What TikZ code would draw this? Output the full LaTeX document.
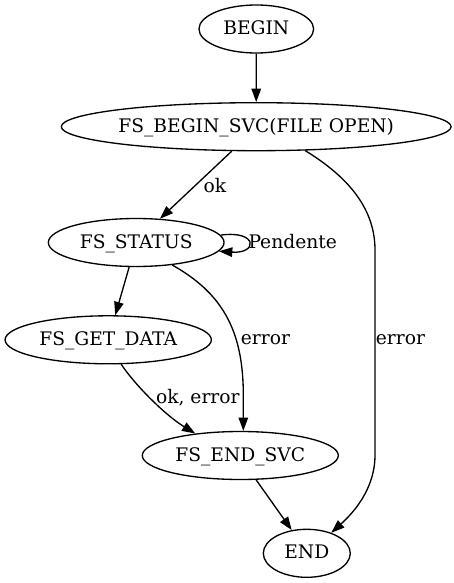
\documentclass[tikz,border=0pt]{standalone}
\usepackage{fontspec}
\setmainfont{DejaVu Serif}
\usetikzlibrary{arrows.meta,shapes.geometric}
\begin{document}
\begin{tikzpicture}[x=1pt,y=-1pt,
  every node/.style={font=\fontsize{18.67pt}{22pt}\selectfont, inner sep=0pt},
  state/.style={draw, ellipse, line width=1.33pt, minimum height=48pt, text height=14pt, text depth=3pt},
  edge/.style={draw, line width=1.33pt, -{Triangle[length=13.3pt,width=9.5pt]}},
  lbl/.style={}
]
\path[use as bounding box] (0,0) rectangle (454,583);

\node[state, minimum width=114.7pt] (begin)  at (256.3,29)    {BEGIN};
\node[state, minimum width=385.7pt] (svc)    at (256.2,126.7) {FS\_BEGIN\_SVC(FILE OPEN)};
\node[state, minimum width=175.7pt] (status) at (136.2,242.5) {FS\_STATUS};
\node[state, minimum width=206.3pt] (get)    at (108.2,339.8) {FS\_GET\_DATA};
\node[state, minimum width=196pt]   (endsvc) at (240.3,455.5) {FS\_END\_SVC};
\node[state, minimum width=87pt]    (end)    at (306.8,553.3) {END};

% BEGIN -> FS_BEGIN_SVC
\draw[edge] (begin.south) -- (svc.north);

% FS_BEGIN_SVC -> FS_STATUS
\draw[edge] (svc.-135) -- (status.45);
\node[lbl] (lok) at (215,185.3) {ok};

% FS_BEGIN_SVC -> END
\coordinate (c1) at (375,250);
\coordinate (c2) at (375,455);
\draw[edge] (svc.-26) .. controls (350,178) and (375,210) .. (c1) -- (c2)
  .. controls (375,490) and (352,514) .. (end.40);
\node[lbl, anchor=west] (lerr2) at (375.7,339.3) {error};

% FS_STATUS self loop
\draw[edge] (status.5.65) .. controls (258,230) and (258,254) .. (status.-6.5);
\node[lbl, anchor=west] (lpend) at (248.3,241.7) {Pendente};

% FS_STATUS -> FS_GET_DATA
\draw[edge] (status.-106) -- (get.74);

% FS_STATUS -> FS_END_SVC
\coordinate (c3) at (243.3,395);
\draw[edge] (status.-32) .. controls (222,293) and (243.3,330) .. (c3) -- (endsvc.83);
\node[lbl, anchor=west] (lerr1) at (240.7,339.3) {error};

% FS_GET_DATA -> FS_END_SVC
\draw[edge] (get.-62) .. controls (135,385) and (165,415) .. (endsvc.154);
\node[lbl] (lokerr) at (197.8,397.3) {ok, error};

% FS_END_SVC -> END
\draw[edge] (endsvc.-57) -- (end.123);
\end{tikzpicture}
\end{document}
